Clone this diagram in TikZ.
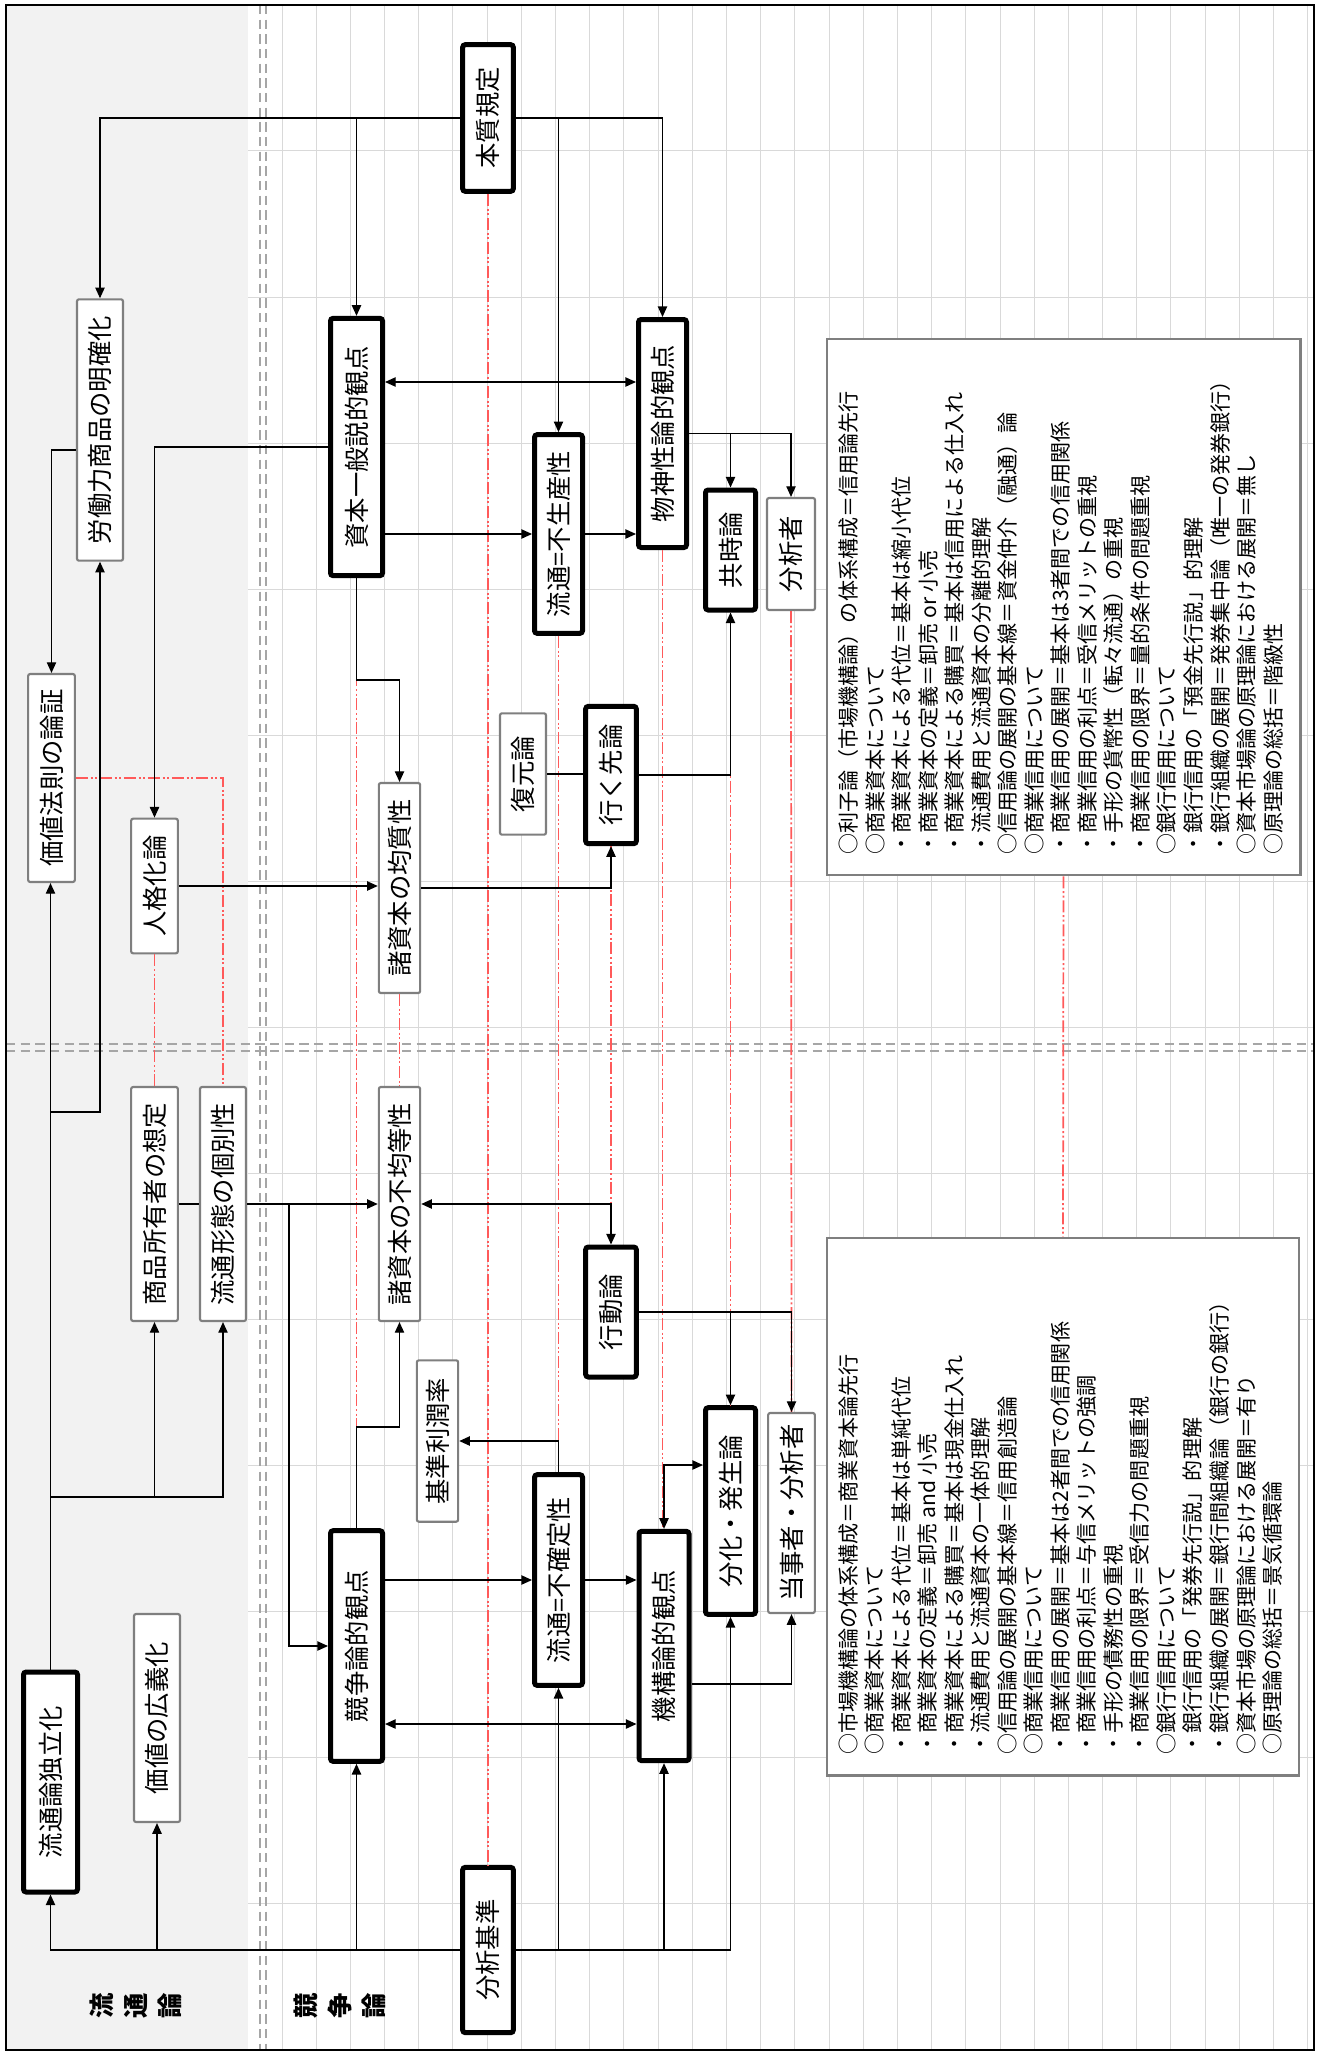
\documentclass[tikz,border=0pt]{standalone}
\usepackage{graphicx}
\usepackage{fontspec}
\setmainfont{Noto Sans CJK JP}
\usetikzlibrary{arrows.meta}

\definecolor{panelgray}{RGB}{242,242,242}
\definecolor{gridgray}{RGB}{217,217,217}
\definecolor{sepgray}{RGB}{166,166,166}
\definecolor{boxgray}{RGB}{127,127,127}
\definecolor{linkred}{RGB}{255,90,90}

\tikzset{
  thickbox/.style={draw=black, line width=3.75pt, fill=white, rounded corners=2pt, inner sep=0pt, minimum width=38pt, font=\fontsize{19}{22}\selectfont},
  thinbox/.style={draw=boxgray, line width=1.6pt, fill=white, rounded corners=1.5pt, inner sep=0pt, minimum width=35pt, font=\fontsize{19}{22}\selectfont},
  memobox/.style={draw=boxgray, line width=2pt, fill=white, inner sep=0pt},
  memotext/.style={inner sep=0pt, font=\fontsize{15.8}{19.9}\selectfont},
  zonelabel/.style={rotate=90, align=center, inner sep=0pt, font=\bfseries\fontsize{19}{25.5}\selectfont},
  conn/.style={draw=black, line width=1pt, -{Triangle[length=8pt,width=7pt]}},
  twoway/.style={draw=black, line width=1pt, {Triangle[length=8pt,width=7pt]}-{Triangle[length=8pt,width=7pt]}},
  plain/.style={draw=black, line width=1pt},
  link/.style={draw=linkred, line width=1.3pt, dash pattern=on 9pt off 2pt on 1.5pt off 2pt on 1.5pt off 2pt},
  gridline/.style={draw=gridgray, line width=0.75pt},
  zonesep/.style={draw=sepgray, line width=1.6pt, dash pattern=on 7pt off 4pt},
}

\begin{document}
\begin{tikzpicture}[x=0.75pt,y=0.75pt,yscale=-1,xscale=1]
\useasboundingbox (0,0) rectangle (1319,2055);

%Shape: Left panel
\fill[panelgray] (6,5) rectangle (248,2050);
%Grid
\foreach \gx in {0,...,30} \draw[gridline] ({282+34.19*\gx},5) -- ({282+34.19*\gx},2050);
\foreach \gy in {151,297,...,1903} \draw[gridline] (248,\gy) -- (1314,\gy);
%Double dashed separators
\draw[zonesep] (260,5) -- (260,2050);
\draw[zonesep] (266,5) -- (266,2050);
\draw[zonesep] (6,1044) -- (1314,1044);
\draw[zonesep] (6,1051) -- (1314,1051);
%Shape: Frame
\draw[line width=1.5pt] (6,5) rectangle (1314,2050);

% Text Node
\node[zonelabel] (ryutsulabel) at (136,2006) {流\\通\\論};
% Text Node
\node[zonelabel] (kyosolabel) at (340,2006) {競\\争\\論};

%Shape: Thick boxes
\node[thickbox, minimum height=110pt] (honshitsu) at (488,118) {\rotatebox{90}{本質規定}};
\node[thickbox, minimum height=124pt] (bunseki) at (488,1950) {\rotatebox{90}{分析基準}};
\node[thickbox, minimum width=40.5pt, minimum height=165pt] (dokuritsu) at (50.5,1782) {\rotatebox{90}{流通論独立化}};
\node[thickbox, minimum width=39pt, minimum height=193pt] (shihon) at (356.5,447) {\rotatebox{90}{資本一般説的観点}};
\node[thickbox, minimum width=39pt, minimum height=173pt] (kyoso) at (356.5,1646) {\rotatebox{90}{競争論的観点}};
\node[thickbox, minimum width=36pt, minimum height=149pt] (fuseisan) at (558.5,534) {\rotatebox{90}{流通=不生産性}};
\node[thickbox, minimum width=36pt, minimum height=158pt] (fukakutei) at (558.5,1580) {\rotatebox{90}{流通=不確定性}};
\node[thickbox, minimum width=36pt, minimum height=171pt] (busshin) at (662.5,433.5) {\rotatebox{90}{物神性論的観点}};
\node[thickbox, minimum width=37.5pt, minimum height=172pt] (kikou) at (664,1646) {\rotatebox{90}{機構論的観点}};
\node[thickbox, minimum height=103pt] (ikusaki) at (611,775) {\rotatebox{90}{行く先論}};
\node[thickbox, minimum height=97.5pt] (koudou) at (611,1312) {\rotatebox{90}{行動論}};
\node[thickbox, minimum width=37.5pt, minimum height=90pt] (kyoji) at (730.5,550) {\rotatebox{90}{共時論}};
\node[thickbox, minimum width=37.5pt, minimum height=155pt] (bunka) at (730.5,1511) {\rotatebox{90}{分化・発生論}};

%Shape: Thin boxes
\node[thinbox, minimum width=34.5pt, minimum height=196pt] (roudou) at (100,430) {\rotatebox{90}{労働力商品の明確化}};
\node[thinbox, minimum height=156pt] (kachihousoku) at (51.5,778) {\rotatebox{90}{価値法則の論証}};
\node[thinbox, minimum height=101pt] (jinkaku) at (154.5,886) {\rotatebox{90}{人格化論}};
\node[thinbox, minimum width=31pt, minimum height=157.5pt] (kinshitsu) at (399.5,888) {\rotatebox{90}{諸資本の均質性}};
\node[thinbox, minimum width=31pt, minimum height=175.5pt] (fukintou) at (399.5,1204) {\rotatebox{90}{諸資本の不均等性}};
\node[thinbox, minimum height=175.5pt] (shouhin) at (154.5,1204) {\rotatebox{90}{商品所有者の想定}};
\node[thinbox, minimum width=34.5pt, minimum height=175.5pt] (keitai) at (223,1204) {\rotatebox{90}{流通形態の個別性}};
\node[thinbox, minimum width=34.5pt, minimum height=156pt] (kougi) at (157,1718) {\rotatebox{90}{価値の広義化}};
\node[thinbox, minimum width=31pt, minimum height=121pt] (kijun) at (437.5,1441) {\rotatebox{90}{基準利潤率}};
\node[thinbox, minimum width=34.5pt, minimum height=91pt] (fukugen) at (523,774) {\rotatebox{90}{復元論}};
\node[thinbox, minimum width=36pt, minimum height=84pt] (bunsekisha) at (791,554) {\rotatebox{90}{分析者}};
\node[thinbox, minimum height=150pt] (toujisha) at (791.5,1513) {\rotatebox{90}{当事者・分析者}};

%Shape: Memo boxes
\node[memobox, minimum width=355pt, minimum height=402pt] (topbox) at (1063.5,607) {};
\node[memobox, minimum width=354pt, minimum height=403pt] (botbox) at (1063,1506.5) {};

% Text Node
\node[memotext, anchor=south] (toptext) at ([yshift=-16pt]topbox.south) {\rotatebox{90}{\begin{tabular}{@{}l@{}}
○利子論（市場機構論）の体系構成＝信用論先行\\
○商業資本について\\
・商業資本による代位＝基本は縮小代位\\
・商業資本の定義＝卸売 or 小売\\
・商業資本による購買＝基本は信用による仕入れ\\
・流通費用と流通資本の分離的理解\\
○信用論の展開の基本線＝資金仲介（融通）論\\
○商業信用について\\
・商業信用の展開＝基本は3者間での信用関係\\
・商業信用の利点＝受信メリットの重視\\
・手形の貨幣性（転々流通）の重視\\
・商業信用の限界＝量的条件の問題重視\\
○銀行信用について\\
・銀行信用の「預金先行説」的理解\\
・銀行組織の展開＝発券集中論（唯一の発券銀行）\\
○資本市場論の原理論における展開＝無し\\
○原理論の総括＝階級性
\end{tabular}}};
% Text Node
\node[memotext, anchor=south] (bottext) at ([yshift=-16pt]botbox.south) {\rotatebox{90}{\begin{tabular}{@{}l@{}}
○市場機構論の体系構成＝商業資本論先行\\
○商業資本について\\
・商業資本による代位＝基本は単純代位\\
・商業資本の定義＝卸売 and 小売\\
・商業資本による購買＝基本は現金仕入れ\\
・流通費用と流通資本の一体的理解\\
○信用論の展開の基本線＝信用創造論\\
○商業信用について\\
・商業信用の展開＝基本は2者間での信用関係\\
・商業信用の利点＝与信メリットの強調\\
・手形の債務性の重視\\
・商業信用の限界＝受信力の問題重視\\
○銀行信用について\\
・銀行信用の「発券先行説」的理解\\
・銀行組織の展開＝銀行間組織論（銀行の銀行）\\
○資本市場の原理論における展開＝有り\\
○原理論の総括＝景気循環論
\end{tabular}}};

%Straight Lines: correspondences
\draw[link] (honshitsu.south) -- (bunseki.north);
\draw[link] (shihon.south) -- (kyoso.north);
\draw[link] (fuseisan.south) -- (fukakutei.north);
\draw[link] (busshin.south) -- (busshin.south |- kikou.north);
\draw[link] (kyoji.south) -- (bunka.north);
\draw[link] (bunsekisha.south) -- (toujisha.north);
\draw[link] (ikusaki.south) -- (koudou.north);
\draw[link] (kinshitsu.south) -- (fukintou.north);
\draw[link] (jinkaku.south) -- (shouhin.north);
\draw[link] (kachihousoku.east) -| (keitai.north);
\draw[link] (topbox.south) -- (botbox.north);

%Straight Lines: from 本質規定
\draw[conn] (honshitsu.west) -| (roudou.north);
\draw[conn] (shihon.north |- honshitsu.west) -- (shihon.north);
\draw[conn] (honshitsu.east) -| (busshin.north);
\draw[conn] (fuseisan.north |- honshitsu.east) -- (fuseisan.north);

%Straight Lines: from 分析基準
\draw[conn] (bunseki.west) -| (dokuritsu.south);
\draw[conn] (kougi.south |- bunseki.west) -- (kougi.south);
\draw[conn] (kyoso.south |- bunseki.west) -- (kyoso.south);
\draw[conn] (bunseki.east) -| (bunka.south);
\draw[conn] (fukakutei.south |- bunseki.east) -- (fukakutei.south);
\draw[conn] (kikou.south |- bunseki.east) -- (kikou.south);

%Straight Lines: left panel
\draw[conn] (dokuritsu.north) -- (dokuritsu.north |- kachihousoku.south);
\draw[conn] (dokuritsu.north |- 0,1497) -| (keitai.south);
\draw[conn] (shouhin.south |- 0,1497) -- (shouhin.south);
\draw[conn] (dokuritsu.north |- 0,1112) -| (roudou.south);
\draw[conn] (roudou.west |- 0,450) -| (kachihousoku.north);
\draw[conn] (shihon.west) -| (jinkaku.north);
\draw[conn] (jinkaku.east) -- (kinshitsu.west |- jinkaku.east);
\draw[plain] (shouhin.east) -- (keitai.west);
\draw[conn] (keitai.east) -- (fukintou.west);
\draw[conn] (keitai.east -| 289,0) |- (kyoso.west);

%Straight Lines: upper half
\draw[conn] (shihon.south) -- (shihon.south |- 0,680) -| (kinshitsu.north);
\draw[twoway] (shihon.east |- 0,382) -- (busshin.west |- 0,382);
\draw[conn] (shihon.east |- fuseisan.west) -- (fuseisan.west);
\draw[conn] (fuseisan.east) -- (busshin.west |- fuseisan.east);
\draw[conn] (busshin.east) -| (kyoji.north);
\draw[conn] (kyoji.north |- busshin.east) -| (bunsekisha.north);
\draw[plain] (fukugen.east) -- (ikusaki.west |- fukugen.east);
\draw[conn] (ikusaki.east) -| (kyoji.south);
\draw[conn] (kinshitsu.east) -| (ikusaki.south);

%Straight Lines: lower half
\draw[twoway] (fukintou.east) -| (koudou.north);
\draw[conn] (kyoso.north) -- (kyoso.north |- 0,1427) -| (fukintou.south);
\draw[conn] (fukakutei.north) |- (kijun.east);
\draw[conn] (kyoso.east |- fukakutei.west) -- (fukakutei.west);
\draw[conn] (fukakutei.east) -- (kikou.west |- fukakutei.east);
\draw[twoway] (kyoso.east |- 0,1724) -- (kikou.west |- 0,1724);
\draw[conn] (kikou.east |- 0,1684) -| (toujisha.south);
\draw[conn] (koudou.east) -| (bunka.north);
\draw[conn] (bunka.north |- koudou.east) -| (toujisha.north);
\draw[twoway] (kikou.north) |- (bunka.west |- 0,1465);

\end{tikzpicture}
\end{document}
